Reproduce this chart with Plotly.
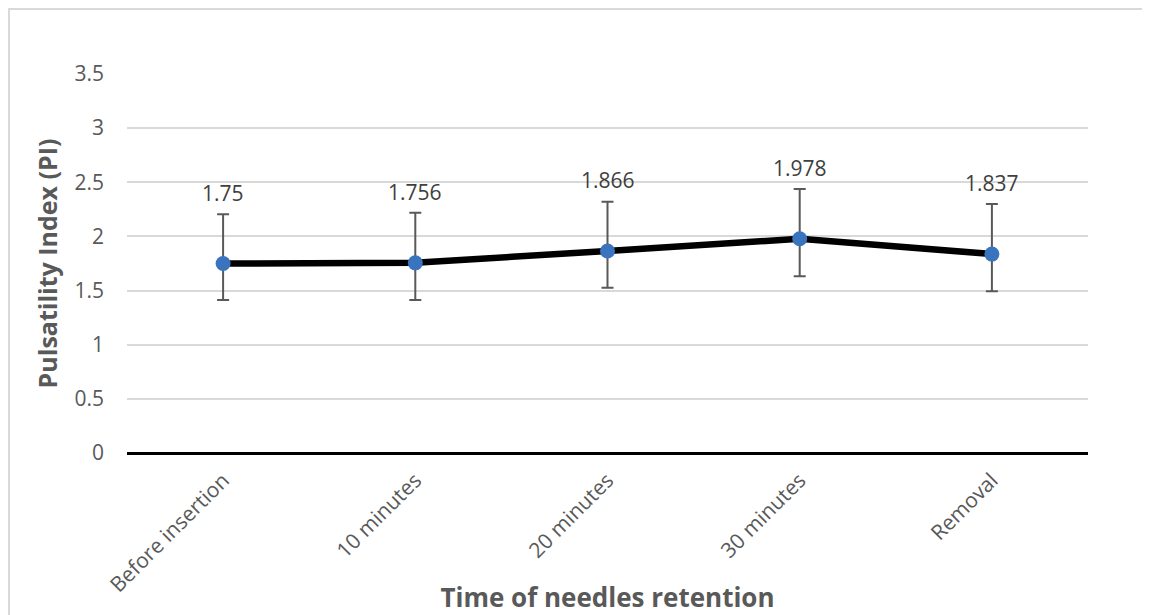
import plotly.graph_objects as go

categories = ["Before insertion", "10 minutes", "20 minutes", "30 minutes", "Removal"]
pi_mean = [1.75, 1.756, 1.866, 1.978, 1.837]
err_upper = [2.204, 2.219, 2.321, 2.438, 2.299]
err_lower = [1.413, 1.413, 1.527, 1.632, 1.493]
label_text = ["1.75", "1.756", "1.866", "1.978", "1.837"]
y_ticks = [0, 0.5, 1, 1.5, 2, 2.5, 3, 3.5]
y_tick_text = ["0", "0.5", "1", "1.5", "2", "2.5", "3", "3.5"]

err_plus = [u - m for u, m in zip(err_upper, pi_mean)]
err_minus = [m - l for m, l in zip(pi_mean, err_lower)]

FONT = "Open Sans"

fig = go.Figure()
fig.add_trace(go.Scatter(
    x=categories, y=pi_mean, mode="lines+markers",
    line=dict(color="#000000", width=6.5),
    marker=dict(color="#3a74be", size=15, line=dict(width=0)),
    error_y=dict(type="data", symmetric=False, array=err_plus, arrayminus=err_minus,
                 color="#595959", thickness=2, width=6),
    showlegend=False, hoverinfo="skip",
))

for c, v, t in zip(categories, pi_mean, label_text):
    fig.add_annotation(x=c, y=v, text=t, showarrow=False, yshift=71,
                       font=dict(family=FONT, size=21, color="#404040"))

fig.add_shape(type="rect", xref="paper", yref="paper",
              x0=-0.1228, x1=1.1, y0=-0.5, y1=1.1715,
              line=dict(color="#d9d9d9", width=2), fillcolor="rgba(0,0,0,0)", layer="below")

fig.update_layout(
    width=1142, height=607,
    margin=dict(l=119, r=62, t=66, b=162, autoexpand=False),
    paper_bgcolor="white", plot_bgcolor="white",
    font=dict(family=FONT, color="#595959"),
    xaxis=dict(
        type="category", tickangle=-45, showgrid=False, automargin=False,
        tickfont=dict(family=FONT, size=21, color="#595959"),
        ticklabelstandoff=10,
        showline=False, zeroline=False, ticks="",
        title=dict(text="<b>Time of needles retention</b>", font=dict(family=FONT, size=26, color="#595959"), standoff=6),
        range=[-0.5, 4.5],
    ),
    yaxis=dict(
        range=[0, 3.5], tickvals=y_ticks, ticktext=y_tick_text, automargin=False,
        showgrid=True, gridcolor="#d9d9d9", gridwidth=2,
        zeroline=True, zerolinecolor="#000000", zerolinewidth=3,
        tickfont=dict(family=FONT, size=21, color="#595959"),
        ticklabelstandoff=22, showline=False, ticks="",
        title=dict(text="<b>Pulsatility Index (PI)</b>", font=dict(family=FONT, size=25, color="#595959"), standoff=9),
    ),
)

fig.write_html("out.html")
